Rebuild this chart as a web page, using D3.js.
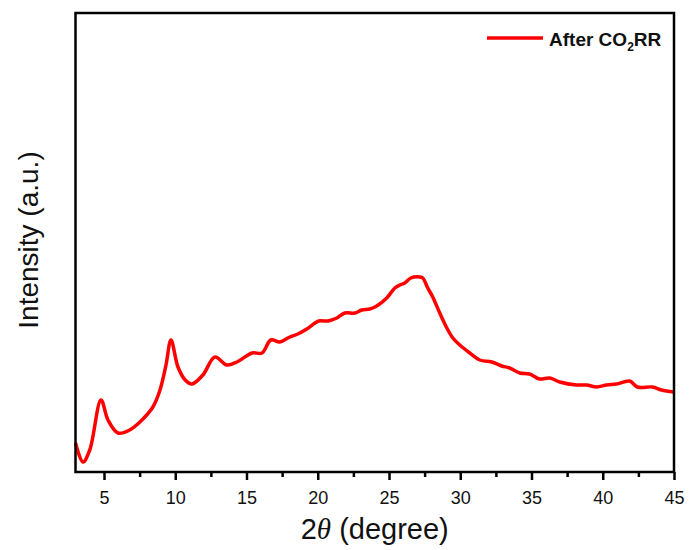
<!DOCTYPE html>
<html>
<head>
<meta charset="utf-8">
<script src="https://cdn.jsdelivr.net/npm/d3@7/dist/d3.min.js"></script>
<style>
  html, body { margin: 0; padding: 0; background: #fff; }
  svg { display: block; font-family: "Liberation Sans", Arial, sans-serif; }
</style>
</head>
<body>
<svg id="chart" width="691" height="550"></svg>
<script>
// 2theta positions (degree) and intensity (a.u.)
const twoTheta = [3.0, 3.53, 4.0, 4.79, 5.28, 5.98, 6.8, 7.52, 8.43, 8.93, 9.35, 9.70,
  10.19, 10.7, 11.17, 11.94, 12.78, 13.62, 14.32, 15.4, 16.08, 16.71, 17.34, 18.04,
  18.6, 19.23, 20.07, 20.71, 21.34, 21.9, 22.6, 23.09, 23.65, 24.14, 24.84, 25.41,
  25.76, 26.11, 26.53, 27.16, 27.37, 27.72, 28.07, 28.56, 29.06, 29.48, 29.97, 30.67,
  31.37, 32.21, 32.91, 33.47, 34.17, 34.87, 35.57, 36.28, 36.98, 38.17, 38.87, 39.57,
  40.27, 40.97, 41.88, 42.44, 43.49, 44.12, 45.0];
const intensity = [29, 10, 22, 72, 52, 39, 42, 50, 65, 82, 107, 132,
  105, 92, 88, 97, 115, 107, 110, 119, 119, 132, 130, 135,
  138, 143, 151, 151, 154, 159, 159, 162, 163, 166, 174, 184,
  187, 189, 194, 195, 194, 184, 175, 159, 144, 134, 127, 119,
  112, 110, 106, 104, 99, 98, 93, 94, 90, 87, 87, 85,
  87, 88, 91, 85, 85, 82, 80];
const xTicks = [5, 10, 15, 20, 25, 30, 35, 40, 45];
const xMinorTicks = [7.5, 12.5, 17.5, 22.5, 27.5, 32.5, 37.5, 42.5];

const svg = d3.select('#chart');
const margin = { left: 75.5, right: 17, top: 13, bottom: 78 };
const W = 691, H = 550;

const x = d3.scaleLinear().domain([3, 45]).range([margin.left, W - margin.right]);
const y = d3.scaleLinear().domain([0, 459]).range([H - margin.bottom, margin.top]);

const data = twoTheta.map((t, i) => ({ t, v: intensity[i] }));

// curve
svg.append('path')
  .datum(data)
  .attr('fill', 'none')
  .attr('stroke', '#ff0000')
  .attr('stroke-width', 3.5)
  .attr('stroke-linejoin', 'round')
  .attr('d', d3.line().x(d => x(d.t)).y(d => y(d.v)).curve(d3.curveCatmullRom.alpha(0.5)));

// frame
svg.append('rect')
  .attr('x', x(3)).attr('y', y(459))
  .attr('width', x(45) - x(3)).attr('height', y(0) - y(459))
  .attr('fill', 'none').attr('stroke', '#000').attr('stroke-width', 2.5);

// x axis
const xAxis = d3.axisBottom(x).tickValues(xTicks).tickSize(8).tickPadding(11);
const gx = svg.append('g').attr('transform', `translate(0,${y(0)})`).call(xAxis);
gx.select('.domain').remove();
gx.selectAll('line').attr('stroke-width', 2.5);
gx.selectAll('text').attr('font-size', 18).attr('fill', '#111');

const xMinor = d3.axisBottom(x).tickValues(xMinorTicks).tickSize(5).tickFormat('');
const gm = svg.append('g').attr('transform', `translate(0,${y(0)})`).call(xMinor);
gm.select('.domain').remove();
gm.selectAll('line').attr('stroke-width', 2.5);

// axis titles
const xt = svg.append('text')
  .attr('x', (x(3) + x(45)) / 2).attr('y', 539)
  .attr('text-anchor', 'middle').attr('font-size', 29).attr('fill', '#111');
xt.append('tspan').text('2');
xt.append('tspan').attr('font-style', 'italic').attr('font-family', '"Liberation Serif", serif').text('θ');
xt.append('tspan').text(' (degree)');

svg.append('text')
  .attr('transform', `translate(38,240) rotate(-90)`)
  .attr('text-anchor', 'middle').attr('font-size', 28).attr('fill', '#111')
  .text('Intensity (a.u.)');

// legend
svg.append('line')
  .attr('x1', 487).attr('x2', 543).attr('y1', 38).attr('y2', 38)
  .attr('stroke', '#ff0000').attr('stroke-width', 3.5);
const lt = svg.append('text')
  .attr('x', 549).attr('y', 46)
  .attr('font-size', 19).attr('font-weight', 'bold').attr('fill', '#111');
lt.append('tspan').text('After CO');
lt.append('tspan').attr('font-size', 12).attr('dy', 5).text('2');
lt.append('tspan').attr('dy', -5).text('RR');
</script>
</body>
</html>
